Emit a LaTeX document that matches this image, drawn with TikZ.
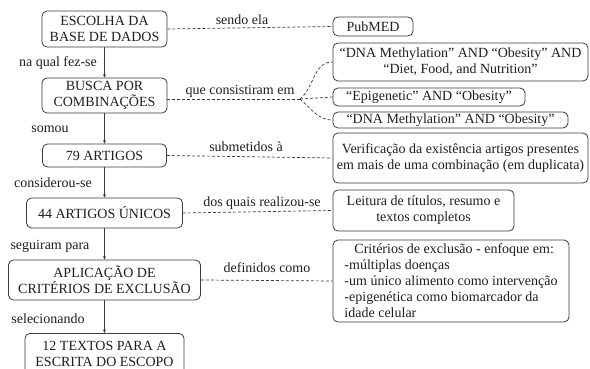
\documentclass[tikz,border=0pt]{standalone}
\usepackage{fontspec}
\setmainfont{Liberation Serif}
\newfontfamily\tnr{Liberation Serif}
\usetikzlibrary{arrows.meta}
\definecolor{ln}{HTML}{3A3A3A}
\definecolor{tx}{HTML}{1E1E1E}
\tikzset{
  box/.style={draw=ln, line width=0.8pt, rounded corners=5pt, inner sep=0pt, align=center, text=tx, font=\tnr\fontsize{14}{16}\selectfont},
  lbl/.style={inner sep=0pt, text=tx, font=\tnr\fontsize{14}{16}\selectfont},
  flow/.style={draw=ln, line width=0.7pt, -{Stealth[length=3.5pt,width=3pt]}},
  dsh/.style={draw=ln, line width=0.7pt, dash pattern=on 3pt off 2pt}
}
\begin{document}
\begin{tikzpicture}[x=1pt,y=-1pt]
\useasboundingbox (0,0) rectangle (590,369);
% left column
\node[box, minimum width=125pt, minimum height=36pt] (b1) at (104.5,29) {ESCOLHA DA\\BASE DE DADOS};
\node[box, minimum width=125pt, minimum height=35pt] (b2) at (104.5,95.5) {BUSCA POR\\COMBINAÇÕES};
\node[box, minimum width=124pt, minimum height=23pt] (b3) at (104.5,155.5) {79 ARTIGOS};
\node[box, minimum width=156pt, minimum height=30pt] (b4) at (104.5,213) {44 ARTIGOS ÚNICOS};
\node[box, minimum width=192pt, minimum height=40pt] (b5) at (104.5,280) {APLICAÇÃO DE\\CRITÉRIOS DE EXCLUSÃO};
\node[box, minimum width=159pt, minimum height=42pt, anchor=north] (b6) at (104.5,333) {12 TEXTOS PARA A\\ESCRITA DO ESCOPO};
% right column
\node[box, minimum width=80pt, minimum height=19pt] (pub) at (373,26.5) {PubMED};
\node[box, minimum width=255pt, minimum height=38pt] (ca) at (460.5,62) {“DNA Methylation” AND “Obesity” AND\\“Diet, Food, and Nutrition”};
\node[box, minimum width=192pt, minimum height=18pt] (cb) at (429,97) {“Epigenetic” AND “Obesity”};
\node[box, minimum width=235pt, minimum height=16pt] (cc) at (450.5,120) {“DNA Methylation” AND “Obesity”};
\node[box, minimum width=255pt, minimum height=50pt] (ver) at (460.5,158) {Verificação da existência artigos presentes\\em mais de uma combinação (em duplicata)};
\node[box, minimum width=181pt, minimum height=41pt] (lei) at (423.5,210.5) {Leitura de títulos, resumo e\\textos completos};
\node[box, minimum width=236pt, minimum height=82pt, align=left] (crit) at (451,281) {\hspace*{10pt}Critérios de exclusão - enfoque em:\\-múltiplas doenças\\-um único alimento como intervenção\\-epigenética como biomarcador da\\idade celular};
% vertical flow
\draw[flow] (b1) -- (b2);
\draw[flow] (b2) -- (b3);
\draw[flow] (b3) -- (b4);
\draw[flow] (b4) -- (b5);
\draw[flow] (b5) -- (b6);
% flow labels
\node[lbl] (l1) at (58,63) {na qual fez-se};
\node[lbl] (l2) at (50,129) {somou};
\node[lbl] (l3) at (53,183) {considerou-se};
\node[lbl] (l4) at (50,246) {seguiram para};
\node[lbl] (l5) at (48,319) {selecionando};
% dashed links
\coordinate (j) at (300,99);
\draw[dsh] (b1.east) -- (pub.west);
\draw[dsh] (b2.east |- j) -- (j);
\draw[dsh] (j) to[out=40,in=180] (ca.west);
\draw[dsh] (j) -- (cb.west);
\draw[dsh] (j) to[out=-40,in=180] (cc.west);
\draw[dsh] (b3.east) -- (ver.west);
\draw[dsh] (b4.east) -- (lei.west);
\draw[dsh] (b5.east) -- (crit.west);
% dashed labels
\node[lbl] (d1) at (242,20) {sendo ela};
\node[lbl] (d2) at (240,91) {que consistiram em};
\node[lbl] (d3) at (246,147) {submetidos à};
\node[lbl] (d4) at (262,203) {dos quais realizou-se};
\node[lbl] (d5) at (267,268) {definidos como};
\end{tikzpicture}
\end{document}
